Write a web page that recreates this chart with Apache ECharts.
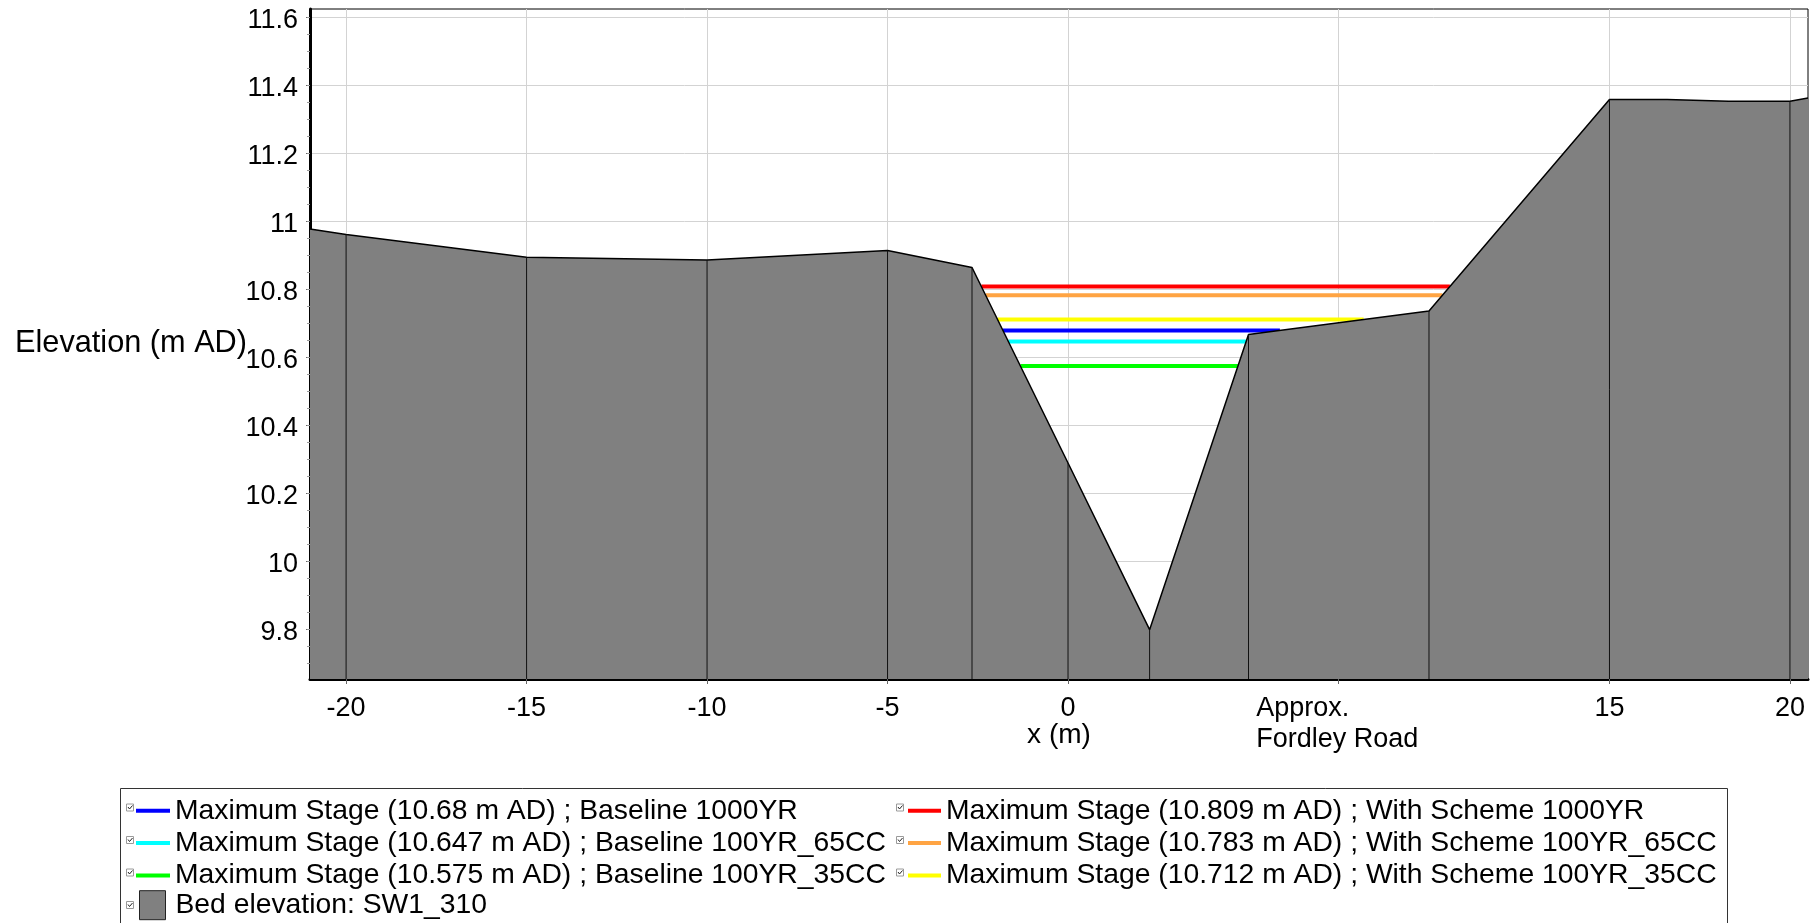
<!DOCTYPE html>
<html>
<head>
<meta charset="utf-8">
<script src="https://cdn.jsdelivr.net/npm/echarts@6/dist/echarts.min.js"></script>
<style>
html,body{margin:0;padding:0;background:#ffffff;}
#chart{width:1814px;height:923px;}
</style>
</head>
<body>
<div id="chart"></div>
<script>
// ---------------- data ----------------
const bedX = [-21, -20, -15, -10, -5, -2.66, 0, 2.26, 5, 10, 15, 16.6, 18.3, 20, 20.5];
const bedY = [10.978, 10.962, 10.895, 10.887, 10.915, 10.865, 10.29, 9.80, 10.668, 10.737, 11.359, 11.359, 11.354, 11.354, 11.363];
const sectionX = [-20, -15, -10, -5, -2.66, 0, 2.26, 5, 10, 15, 20];

const stageLevels = [10.68, 10.647, 10.575, 10.809, 10.783, 10.712];
const stageScenarios = ['Baseline 1000YR', 'Baseline 100YR_65CC', 'Baseline 100YR_35CC',
                        'With Scheme 1000YR', 'With Scheme 100YR_65CC', 'With Scheme 100YR_35CC'];
const stageColors = ['#0000ff', '#00ffff', '#00ff00', '#ff0000', '#ffa443', '#ffff00'];
const bedName = 'Bed elevation: SW1_310';

const xTicks = [-20, -15, -10, -5, 0, 7.5, 15, 20];
const xTickLabels = ['-20', '-15', '-10', '-5', '0', 'Approx.\nFordley Road', '15', '20'];
const yTicks = [9.8, 10, 10.2, 10.4, 10.6, 10.8, 11, 11.2, 11.4, 11.6];
const yTickLabels = ['9.8', '10', '10.2', '10.4', '10.6', '10.8', '11', '11.2', '11.4', '11.6'];
const yMinorStep = 0.05;

const xTitle = 'x (m)';
const yTitle = 'Elevation (m AD)';
const yMin = 9.655, yMax = 11.625, xMin = -21, xMax = 20.5;

// ---------------- helpers ----------------
const FONT = "'Liberation Sans', Arial, sans-serif";
const stageNames = stageLevels.map((v, i) => 'Maximum Stage (' + v + ' m AD) ; ' + stageScenarios[i]);

function waterExtent(h) {
  let imin = 0;
  for (let i = 1; i < bedY.length; i++) if (bedY[i] < bedY[imin]) imin = i;
  let xl = bedX[0], xr = bedX[bedX.length - 1];
  for (let i = imin; i > 0; i--) {
    if (bedY[i - 1] >= h) {
      const t = (h - bedY[i]) / (bedY[i - 1] - bedY[i]);
      xl = bedX[i] + t * (bedX[i - 1] - bedX[i]);
      break;
    }
  }
  for (let i = imin; i < bedX.length - 1; i++) {
    if (bedY[i + 1] >= h) {
      const t = (h - bedY[i]) / (bedY[i + 1] - bedY[i]);
      xr = bedX[i] + t * (bedX[i + 1] - bedX[i]);
      break;
    }
  }
  return [xl, xr];
}
function bedAt(x) {
  const k = bedX.indexOf(x);
  return bedY[k];
}
function nearestIdx(arr, v) {
  let b = 0;
  for (let i = 1; i < arr.length; i++) if (Math.abs(arr[i] - v) < Math.abs(arr[b] - v)) b = i;
  return b;
}
const yMinor = [];
for (let v = Math.ceil(yMin / yMinorStep) * yMinorStep; v <= yMax + 1e-9; v += yMinorStep) {
  yMinor.push(Math.round(v * 1000) / 1000);
}

// ---------------- series ----------------
const series = [];
stageLevels.forEach((h, i) => {
  const ext = waterExtent(h);
  series.push({
    name: stageNames[i],
    type: 'line',
    data: [[ext[0], h], [ext[1], h]],
    symbol: 'none',
    color: stageColors[i],
    itemStyle: { color: stageColors[i] },
    lineStyle: { color: stageColors[i], width: 4 },
    z: 2,
    silent: true
  });
});
series.push({
  name: bedName,
  type: 'line',
  data: bedX.map((x, i) => [x, bedY[i]]),
  symbol: 'none',
  color: '#808080',
  itemStyle: { color: '#808080' },
  lineStyle: { color: '#000000', width: 1.5 },
  areaStyle: { color: '#808080', opacity: 1, origin: 'start' },
  z: 3,
  silent: true
});
series.push({
  name: 'sections',
  type: 'custom',
  data: sectionX.map(x => [x, bedAt(x)]),
  renderItem: function (params, api) {
    const top = api.coord([api.value(0), api.value(1)]);
    const bot = api.coord([api.value(0), yMin]);
    return {
      type: 'line',
      shape: { x1: top[0], y1: top[1], x2: bot[0], y2: bot[1] },
      style: { stroke: '#111111', lineWidth: 1 }
    };
  },
  z: 4,
  silent: true
});

// ---------------- legend decorations ----------------
const rowY = [807.5, 840, 872.5, 905];
const boxCols = [126, 896];
const graphics = [{
  type: 'rect',
  shape: { x: 120.5, y: 788.5, width: 1607, height: 200 },
  style: { fill: null, stroke: '#333333', lineWidth: 1 },
  z: 0
}];
const boxes = [[0, 0], [0, 1], [0, 2], [0, 3], [1, 0], [1, 1], [1, 2]];
boxes.forEach(([c, r]) => {
  const x = boxCols[c], y = rowY[r] - 4;
  graphics.push({
    type: 'rect', shape: { x: x + 0.5, y: y + 0.5, width: 7, height: 7 },
    style: { fill: '#ffffff', stroke: '#9a9a9a', lineWidth: 1 }, z: 1
  });
  graphics.push({
    type: 'polyline', shape: { points: [[x + 2, y + 3.5], [x + 3.5, y + 5.5], [x + 6.5, y + 2]] },
    style: { fill: null, stroke: '#222222', lineWidth: 1 }, z: 2
  });
});

const legendText = { fontSize: 28.3, lineHeight: 32.4, color: '#000000', fontFamily: FONT };

const option = {
  animation: false,
  backgroundColor: '#ffffff',
  textStyle: { fontFamily: FONT },
  grid: {
    left: 310, top: 9, width: 1498, height: 670,
    show: true, borderColor: '#000000', borderWidth: 1, backgroundColor: 'transparent',
    containLabel: false, outerBoundsMode: 'none'
  },
  legend: [
    {
      left: 136, top: 794.5, orient: 'vertical', padding: 0, itemGap: 0,
      itemWidth: 34, itemHeight: 4, icon: 'path://M0,0H34V4H0Z',
      selectedMode: false, data: stageNames.slice(0, 3), textStyle: legendText
    },
    {
      left: 908, top: 794.5, orient: 'vertical', padding: 0, itemGap: 0,
      itemWidth: 33, itemHeight: 4, icon: 'path://M0,0H33V4H0Z',
      selectedMode: false, data: stageNames.slice(3, 6), textStyle: legendText
    },
    {
      left: 139, top: 889, orient: 'vertical', padding: 0, itemGap: 0,
      itemWidth: 26, itemHeight: 29, selectedMode: false,
      data: [{ name: bedName, icon: 'rect', itemStyle: { color: '#808080', borderColor: '#222222', borderWidth: 1 } }],
      textStyle: Object.assign({}, legendText, { padding: [0, 0, 0, 5] })
    }
  ],
  xAxis: {
    type: 'value', min: xMin, max: xMax,
    name: xTitle, nameLocation: 'middle', nameGap: 42, nameMoveOverlap: false,
    nameTextStyle: { fontSize: 28, color: '#000000', fontFamily: FONT },
    axisLine: { show: true, onZero: false, lineStyle: { color: '#000000', width: 3 } },
    axisTick: { show: true, customValues: xTicks, length: 5, lineStyle: { color: '#666666' } },
    axisLabel: {
      customValues: xTicks, margin: 14, fontSize: 27, lineHeight: 31, color: '#000000', fontFamily: FONT,
      formatter: function (v) {
        const s = xTickLabels[nearestIdx(xTicks, v)];
        if (s.indexOf('\n') >= 0) {
          return s.split('\n').map(t => '{f|' + t + '}').join('\n');
        }
        return s;
      },
      rich: { f: { fontSize: 27, lineHeight: 31, width: 165, align: 'left', color: '#000000', fontFamily: FONT } }
    },
    splitLine: { show: true, lineStyle: { color: '#d3d3d3', width: 1 } }
  },
  yAxis: [
    {
      type: 'value', min: yMin, max: yMax, splitNumber: 10,
      name: yTitle, nameLocation: 'middle', nameRotate: 0, nameGap: 63, nameMoveOverlap: false,
      nameTextStyle: { fontSize: 30.7, color: '#000000', fontFamily: FONT },
      axisLine: { show: true, onZero: false, lineStyle: { color: '#000000', width: 3 } },
      axisTick: { show: true, customValues: yTicks, length: 4, lineStyle: { color: '#666666' } },
      axisLabel: {
        customValues: yTicks, margin: 12, fontSize: 27, color: '#000000', fontFamily: FONT,
        verticalAlign: 'top', lineHeight: 6,
        formatter: function (v) { return yTickLabels[nearestIdx(yTicks, v)]; }
      },
      splitLine: { show: true, lineStyle: { color: '#d3d3d3', width: 1 } }
    },
    {
      type: 'value', min: yMin, max: yMax, position: 'left',
      axisLine: { show: false, onZero: false },
      axisTick: { show: true, customValues: yMinor, length: 3, lineStyle: { color: '#9a9a9a' } },
      axisLabel: { show: false },
      splitLine: { show: false }
    }
  ],
  graphic: graphics,
  series: series
};

const chart = echarts.init(document.getElementById('chart'), null, { renderer: 'canvas' });
chart.setOption(option);
</script>
</body>
</html>
